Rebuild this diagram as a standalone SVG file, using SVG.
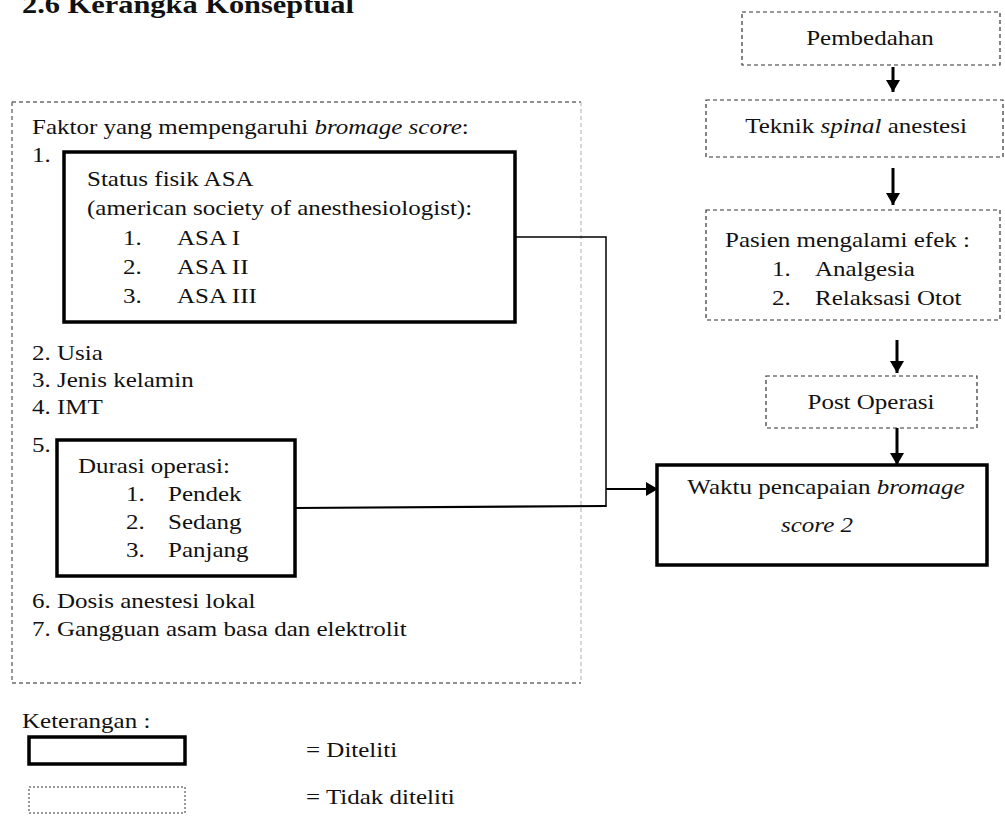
<svg xmlns="http://www.w3.org/2000/svg" width="1005" height="817" viewBox="0 0 1005 817">
<style>
text{font-family:"Liberation Serif","Times New Roman",serif;font-size:21px;fill:#111}
.t{font-weight:bold;font-size:26px}
.c{text-anchor:middle}
.i{font-style:italic}
.thick{fill:none;stroke:#000;stroke-width:3.5}
.dash{fill:none;stroke:#333;stroke-width:1.2;stroke-dasharray:4 3}
.ln{fill:none;stroke:#000}
</style>
<defs>
<marker id="ah" markerUnits="userSpaceOnUse" markerWidth="14" markerHeight="14" refX="12" refY="7" orient="auto">
<path d="M0,0 L12,7 L0,14 Z" fill="#000"/>
</marker>
</defs>
<rect width="1005" height="817" fill="#fff"/>
<text class="t" transform="translate(22,13) scale(1.17,1)">2.6 Kerangka Konseptual</text>

<g id="faktor">
<line x1="12" y1="102" x2="581" y2="102" class="dash" style="stroke:#222"/>
<line x1="12" y1="683" x2="581" y2="683" class="dash" style="stroke:#222"/>
<line x1="12" y1="102" x2="12" y2="683" class="dash" style="stroke:#555"/>
<line x1="581" y1="102" x2="581" y2="683" class="dash" style="stroke:#bbb"/>
<text transform="translate(32,134) scale(1.19,1)">Faktor yang mempengaruhi <tspan class="i">bromage score</tspan>:</text>
<text transform="translate(32,162) scale(1.19,1)">1.</text>
<text transform="translate(32,360) scale(1.19,1)">2. Usia</text>
<text transform="translate(32,387) scale(1.19,1)">3. Jenis kelamin</text>
<text transform="translate(32,414) scale(1.19,1)">4. IMT</text>
<text transform="translate(32,452) scale(1.19,1)">5.</text>
<text transform="translate(32,608) scale(1.19,1)">6. Dosis anestesi lokal</text>
<text transform="translate(32,636) scale(1.19,1)">7. Gangguan asam basa dan elektrolit</text>
</g>

<g id="asa">
<rect x="64" y="152" width="451" height="170" class="thick"/>
<text transform="translate(87,186) scale(1.19,1)">Status fisik ASA</text>
<text transform="translate(87,215) scale(1.19,1)">(american society of anesthesiologist):</text>
<text transform="translate(123,245) scale(1.19,1)">1.</text><text transform="translate(177,245) scale(1.19,1)">ASA I</text>
<text transform="translate(123,274) scale(1.19,1)">2.</text><text transform="translate(177,274) scale(1.19,1)">ASA II</text>
<text transform="translate(123,303) scale(1.19,1)">3.</text><text transform="translate(177,303) scale(1.19,1)">ASA III</text>
</g>

<g id="durasi">
<rect x="57" y="440" width="238" height="136" class="thick"/>
<text transform="translate(78,473) scale(1.19,1)">Durasi operasi:</text>
<text transform="translate(126,501) scale(1.19,1)">1.</text><text transform="translate(168,501) scale(1.19,1)">Pendek</text>
<text transform="translate(126,529) scale(1.19,1)">2.</text><text transform="translate(168,529) scale(1.19,1)">Sedang</text>
<text transform="translate(126,557) scale(1.19,1)">3.</text><text transform="translate(168,557) scale(1.19,1)">Panjang</text>
</g>

<g id="pembedahan">
<rect x="742" y="12" width="258" height="53" class="dash"/>
<text class="c" transform="translate(870,45) scale(1.19,1)">Pembedahan</text>
</g>

<g id="teknik">
<rect x="706" y="100" width="297" height="57" class="dash"/>
<text class="c" transform="translate(856,133) scale(1.19,1)">Teknik <tspan class="i">spinal</tspan> anestesi</text>
</g>

<g id="pasien">
<rect x="706" y="210" width="294" height="110" class="dash"/>
<text transform="translate(725,247) scale(1.19,1)">Pasien mengalami efek :</text>
<text transform="translate(772,276) scale(1.19,1)">1.</text><text transform="translate(815,276) scale(1.19,1)">Analgesia</text>
<text transform="translate(772,305) scale(1.19,1)">2.</text><text transform="translate(815,305) scale(1.19,1)">Relaksasi Otot</text>
</g>

<g id="post">
<rect x="766" y="376" width="211" height="52" class="dash"/>
<text class="c" transform="translate(871,409) scale(1.19,1)">Post Operasi</text>
</g>

<g id="waktu">
<rect x="657" y="465" width="330" height="100" class="thick"/>
<text class="c" transform="translate(826,494) scale(1.19,1)">Waktu pencapaian <tspan class="i">bromage</tspan></text>
<text class="c i" transform="translate(817,532) scale(1.19,1)">score 2</text>
</g>

<g id="connectors">
<line x1="893" y1="67" x2="893" y2="92" class="ln" stroke-width="3" marker-end="url(#ah)"/>
<line x1="893" y1="168" x2="893" y2="205" class="ln" stroke-width="3" marker-end="url(#ah)"/>
<line x1="897" y1="340" x2="897" y2="373" class="ln" stroke-width="3" marker-end="url(#ah)"/>
<line x1="897" y1="428" x2="897" y2="465" class="ln" stroke-width="3" marker-end="url(#ah)"/>
<polyline points="515,237 606,237 606,507" class="ln" stroke-width="1.5"/>
<polyline points="295,508 606,506" class="ln" stroke-width="2.2"/>
<line x1="606" y1="489" x2="658" y2="489" class="ln" stroke-width="1.8" marker-end="url(#ah)"/>
</g>

<g id="legend">
<text transform="translate(22,728) scale(1.19,1)">Keterangan :</text>
<rect x="29" y="737" width="156" height="27" class="thick"/>
<text transform="translate(306,757) scale(1.19,1)">= Diteliti</text>
<rect x="29" y="787" width="156" height="26" fill="none" stroke="#333" stroke-width="1" stroke-dasharray="2 2"/>
<text transform="translate(306,804) scale(1.19,1)">= Tidak diteliti</text>
</g>
</svg>
